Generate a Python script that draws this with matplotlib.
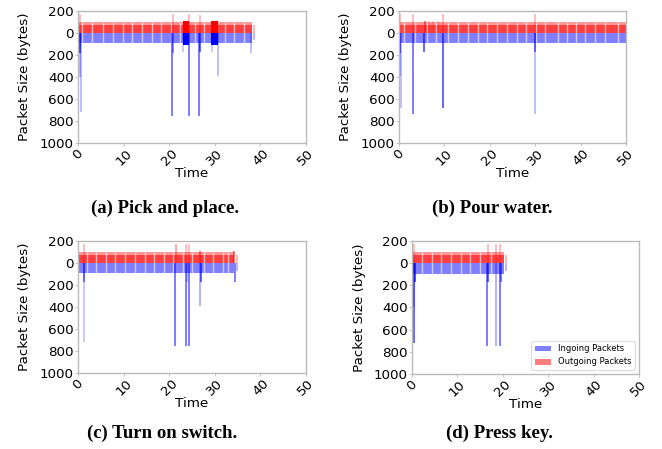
import matplotlib
matplotlib.use("Agg")
import matplotlib.pyplot as plt
from matplotlib.patches import Patch

# ---- data ----
titles = ["(a) Pick and place.", "(b) Pour water.", "(c) Turn on switch.", "(d) Press key."]

# continuous traffic span (start, end) in seconds
band_start = [0.3, 0.1, 0.1, 0.3]
band_end = [38.2, 50.0, 34.3, 20.2]
# tail packets just after the span
tail_time = [38.7, None, 34.9, 20.8]
tail_out = [75, None, 75, 70]
tail_in = [-65, None, -70, -70]

# typical packet sizes in the dense band
out_light = 100
out_dense = 75
in_size = -95

# small gaps inside the band (seconds)
gaps = [
    [0.8, 3.0, 5.5, 7.7, 9.9, 11.9, 14.1, 16.3, 18.3, 20.3, 22.4, 25.7, 27.6, 32.2, 34.3, 36.3],
    [1.2, 3.6, 6.1, 8.2, 10.9, 13.0, 15.2, 17.3, 19.4, 21.6, 23.7, 25.9, 27.9, 30.2, 32.2, 35.0,
     37.0, 39.0, 41.0, 43.2, 45.4, 48.2],
    [1.9, 4.0, 6.1, 8.2, 10.3, 12.4, 14.6, 16.7, 18.8, 20.9, 23.0, 25.1, 27.6, 29.6, 31.7, 33.0],
    [2.2, 4.3, 6.4, 8.6, 10.7, 12.8, 14.9, 17.5],
]

# saturated bursts (start, end) -- plot (a) only
bursts = [[(23.0, 24.3), (29.2, 30.6)], [], [], []]
burst_out = 110
burst_in = -105

# isolated spikes: time, size (negative = ingoing), opacity
spike_t = [
    [0.35, 0.45, 0.5, 0.55, 20.7, 20.75, 20.8, 23.0, 24.3, 24.35, 26.6, 26.65, 26.7, 29.3, 30.6, 38.0],
    [0.2, 0.25, 0.3, 0.35, 3.1, 3.15, 5.6, 5.65, 6.6, 7.5, 8.6, 9.75, 9.8, 29.9, 29.95, 30.0],
    [0.1, 1.3, 1.35, 1.4, 21.35, 21.4, 23.7, 23.75, 23.8, 24.4, 24.45, 26.8, 26.85, 26.9, 34.3, 34.35],
    [0.45, 0.5, 0.55, 0.6, 16.6, 16.65, 16.7, 18.5, 18.55, 19.4, 19.45, 19.5],
]
spike_v = [
    [170, -180, -400, -720, -750, 170, -180, -170, -750, 170, -750, 165, -170, -170, -390, -180],
    [170, -180, -390, -680, -740, 170, -170, 110, 110, 110, 110, -680, 170, -740, 170, -170],
    [120, -720, 170, -170, -750, 170, -750, 170, -170, -750, 170, -390, 110, -170, 110, -170],
    [170, -720, -400, -170, -750, 170, -170, -750, 170, -750, 170, -170],
]
spike_a = [
    [0.3, 0.8, 0.35, 0.3, 0.6, 0.3, 0.5, 0.25, 0.6, 0.3, 0.6, 0.3, 0.7, 0.25, 0.3, 0.3],
    [0.3, 0.8, 0.35, 0.3, 0.6, 0.3, 0.7, 0.6, 0.25, 0.25, 0.25, 0.7, 0.3, 0.3, 0.3, 0.6],
    [0.4, 0.25, 0.3, 0.6, 0.6, 0.4, 0.6, 0.3, 0.3, 0.6, 0.3, 0.35, 0.6, 0.7, 0.6, 0.6],
    [0.3, 0.7, 0.35, 0.8, 0.6, 0.3, 0.7, 0.35, 0.3, 0.6, 0.3, 0.6],
]

y_ticks = [200, 0, -200, -400, -600, -800, -1000]
x_ticks = [0, 10, 20, 30, 40, 50]

# ---- layout ----
W, H = 662, 449
fig = plt.figure(figsize=(W / 100, H / 100), dpi=100)
boxes = [(78, 306, 11, 143), (399, 626, 11, 143), (78, 306, 241, 373), (412, 639, 241, 374)]
caps = [(165, 208), (492, 208), (162, 433), (499, 433)]
FS = 9.7

for i in range(4):
    l, r, t, b = boxes[i]
    ax = fig.add_axes([l / W, 1 - b / H, (r - l) / W, (b - t) / H])
    s, e = band_start[i], band_end[i]
    # dense band
    ax.bar(s, out_light, width=e - s, align="edge", color="red", alpha=0.41, linewidth=0)
    ax.bar(s, out_dense, width=e - s, align="edge", color="red", alpha=0.58, linewidth=0)
    ax.bar(s, in_size, width=e - s, align="edge", color="blue", alpha=0.5, linewidth=0)
    ax.vlines(gaps[i], in_size, out_light, colors="white", alpha=0.6, linewidth=1.0)
    if tail_time[i] is not None:
        ax.vlines([tail_time[i]], 0, tail_out[i], colors="red", alpha=0.3, linewidth=1.3)
        ax.vlines([tail_time[i]], tail_in[i], 0, colors="blue", alpha=0.3, linewidth=1.3)
    for (bs, be) in bursts[i]:
        ax.bar(bs, burst_out, width=be - bs, align="edge", color="red", linewidth=0)
        ax.bar(bs, burst_in, width=be - bs, align="edge", color="blue", linewidth=0)
    for tt, vv, aa in zip(spike_t[i], spike_v[i], spike_a[i]):
        ax.vlines([tt], min(vv, 0), max(vv, 0), colors="red" if vv > 0 else "blue",
                  alpha=aa, linewidth=1.2)

    ax.set_xlim(0, 50)
    ax.set_ylim(-1000, 200)
    ax.set_yticks(y_ticks)
    ax.set_yticklabels([str(abs(v)) for v in y_ticks], fontsize=FS)
    ax.set_xticks(x_ticks)
    ax.set_xticklabels([str(v) for v in x_ticks], fontsize=FS, rotation=45, ha="center")
    ax.tick_params(length=2, color="#bbbbbb", pad=1.0, width=0.6)
    for sp in ax.spines.values():
        sp.set_color("#bbbbbb")
        sp.set_linewidth(1.0)
    ax.set_xlabel("Time", fontsize=FS, labelpad=-1)
    ax.set_ylabel("Packet Size (bytes)", fontsize=FS, labelpad=6)
    if i == 3:
        handles = [Patch(facecolor="blue", alpha=0.5, label="Ingoing Packets"),
                   Patch(facecolor="red", alpha=0.5, label="Outgoing Packets")]
        ax.legend(handles=handles, loc="lower right", fontsize=6, handlelength=2.0,
                  frameon=True, framealpha=0.9, edgecolor="#dddddd")
    fig.text(caps[i][0] / W, 1 - caps[i][1] / H, titles[i], ha="center", va="center",
             fontsize=13.5, fontweight="bold", family="Liberation Serif")

fig.savefig("out.png", dpi=100)
